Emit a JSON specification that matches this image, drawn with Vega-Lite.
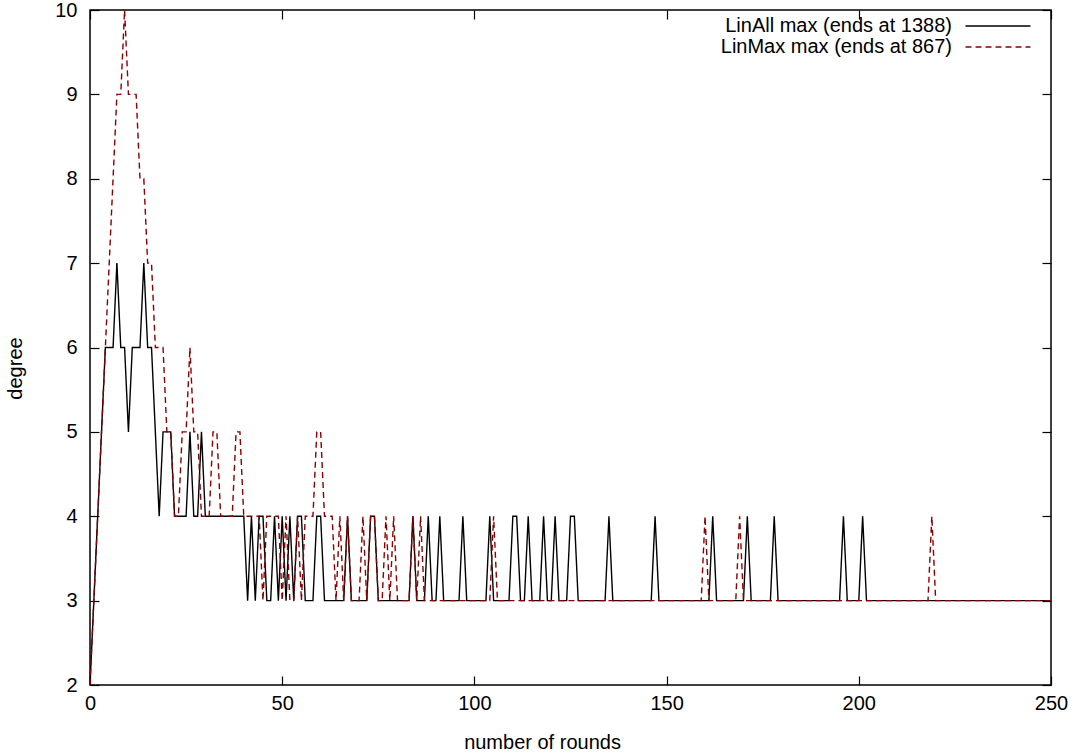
{
  "$schema": "https://vega.github.io/schema/vega-lite/v6.json",
  "width": 961,
  "height": 675,
  "autosize": {"type": "none"},
  "padding": {"left": 90, "top": 10, "right": 29, "bottom": 71},
  "background": "white",
  "config": {
    "font": "Liberation Sans",
    "view": {"stroke": "black", "strokeWidth": 1.5},
    "axis": {"grid": false, "domain": false, "tickColor": "black", "tickWidth": 1.2, "tickSize": -9, "labelColor": "black", "labelFontSize": 20, "labelOverlap": false, "labelFlush": false, "titleColor": "black", "titleFontSize": 20, "titleFontWeight": "normal"}
  },
  "data": {
    "values": [
      {"series": "LinAll max (ends at 1388)", "round": 0, "degree": 2},
      {"series": "LinAll max (ends at 1388)", "round": 1, "degree": 3},
      {"series": "LinAll max (ends at 1388)", "round": 2, "degree": 4},
      {"series": "LinAll max (ends at 1388)", "round": 3, "degree": 5},
      {"series": "LinAll max (ends at 1388)", "round": 4, "degree": 6},
      {"series": "LinAll max (ends at 1388)", "round": 6, "degree": 6},
      {"series": "LinAll max (ends at 1388)", "round": 7, "degree": 7},
      {"series": "LinAll max (ends at 1388)", "round": 8, "degree": 6},
      {"series": "LinAll max (ends at 1388)", "round": 9, "degree": 6},
      {"series": "LinAll max (ends at 1388)", "round": 10, "degree": 5},
      {"series": "LinAll max (ends at 1388)", "round": 11, "degree": 6},
      {"series": "LinAll max (ends at 1388)", "round": 13, "degree": 6},
      {"series": "LinAll max (ends at 1388)", "round": 14, "degree": 7},
      {"series": "LinAll max (ends at 1388)", "round": 15, "degree": 6},
      {"series": "LinAll max (ends at 1388)", "round": 16, "degree": 6},
      {"series": "LinAll max (ends at 1388)", "round": 17, "degree": 5},
      {"series": "LinAll max (ends at 1388)", "round": 18, "degree": 4},
      {"series": "LinAll max (ends at 1388)", "round": 19, "degree": 5},
      {"series": "LinAll max (ends at 1388)", "round": 21, "degree": 5},
      {"series": "LinAll max (ends at 1388)", "round": 22, "degree": 4},
      {"series": "LinAll max (ends at 1388)", "round": 25, "degree": 4},
      {"series": "LinAll max (ends at 1388)", "round": 26, "degree": 5},
      {"series": "LinAll max (ends at 1388)", "round": 27, "degree": 4},
      {"series": "LinAll max (ends at 1388)", "round": 28, "degree": 4},
      {"series": "LinAll max (ends at 1388)", "round": 29, "degree": 5},
      {"series": "LinAll max (ends at 1388)", "round": 30, "degree": 4},
      {"series": "LinAll max (ends at 1388)", "round": 40, "degree": 4},
      {"series": "LinAll max (ends at 1388)", "round": 41, "degree": 3},
      {"series": "LinAll max (ends at 1388)", "round": 42, "degree": 4},
      {"series": "LinAll max (ends at 1388)", "round": 43, "degree": 3},
      {"series": "LinAll max (ends at 1388)", "round": 44, "degree": 4},
      {"series": "LinAll max (ends at 1388)", "round": 45, "degree": 4},
      {"series": "LinAll max (ends at 1388)", "round": 46, "degree": 3},
      {"series": "LinAll max (ends at 1388)", "round": 47, "degree": 3},
      {"series": "LinAll max (ends at 1388)", "round": 48, "degree": 4},
      {"series": "LinAll max (ends at 1388)", "round": 49, "degree": 3},
      {"series": "LinAll max (ends at 1388)", "round": 50, "degree": 4},
      {"series": "LinAll max (ends at 1388)", "round": 51, "degree": 3},
      {"series": "LinAll max (ends at 1388)", "round": 52, "degree": 4},
      {"series": "LinAll max (ends at 1388)", "round": 53, "degree": 3},
      {"series": "LinAll max (ends at 1388)", "round": 54, "degree": 4},
      {"series": "LinAll max (ends at 1388)", "round": 55, "degree": 4},
      {"series": "LinAll max (ends at 1388)", "round": 56, "degree": 3},
      {"series": "LinAll max (ends at 1388)", "round": 58, "degree": 3},
      {"series": "LinAll max (ends at 1388)", "round": 59, "degree": 4},
      {"series": "LinAll max (ends at 1388)", "round": 60, "degree": 4},
      {"series": "LinAll max (ends at 1388)", "round": 61, "degree": 3},
      {"series": "LinAll max (ends at 1388)", "round": 66, "degree": 3},
      {"series": "LinAll max (ends at 1388)", "round": 67, "degree": 4},
      {"series": "LinAll max (ends at 1388)", "round": 68, "degree": 3},
      {"series": "LinAll max (ends at 1388)", "round": 72, "degree": 3},
      {"series": "LinAll max (ends at 1388)", "round": 73, "degree": 4},
      {"series": "LinAll max (ends at 1388)", "round": 74, "degree": 4},
      {"series": "LinAll max (ends at 1388)", "round": 75, "degree": 3},
      {"series": "LinAll max (ends at 1388)", "round": 83, "degree": 3},
      {"series": "LinAll max (ends at 1388)", "round": 84, "degree": 4},
      {"series": "LinAll max (ends at 1388)", "round": 85, "degree": 3},
      {"series": "LinAll max (ends at 1388)", "round": 87, "degree": 3},
      {"series": "LinAll max (ends at 1388)", "round": 88, "degree": 4},
      {"series": "LinAll max (ends at 1388)", "round": 89, "degree": 3},
      {"series": "LinAll max (ends at 1388)", "round": 90, "degree": 3},
      {"series": "LinAll max (ends at 1388)", "round": 91, "degree": 4},
      {"series": "LinAll max (ends at 1388)", "round": 92, "degree": 3},
      {"series": "LinAll max (ends at 1388)", "round": 96, "degree": 3},
      {"series": "LinAll max (ends at 1388)", "round": 97, "degree": 4},
      {"series": "LinAll max (ends at 1388)", "round": 98, "degree": 3},
      {"series": "LinAll max (ends at 1388)", "round": 103, "degree": 3},
      {"series": "LinAll max (ends at 1388)", "round": 104, "degree": 4},
      {"series": "LinAll max (ends at 1388)", "round": 105, "degree": 3},
      {"series": "LinAll max (ends at 1388)", "round": 109, "degree": 3},
      {"series": "LinAll max (ends at 1388)", "round": 110, "degree": 4},
      {"series": "LinAll max (ends at 1388)", "round": 111, "degree": 4},
      {"series": "LinAll max (ends at 1388)", "round": 112, "degree": 3},
      {"series": "LinAll max (ends at 1388)", "round": 113, "degree": 3},
      {"series": "LinAll max (ends at 1388)", "round": 114, "degree": 4},
      {"series": "LinAll max (ends at 1388)", "round": 115, "degree": 3},
      {"series": "LinAll max (ends at 1388)", "round": 117, "degree": 3},
      {"series": "LinAll max (ends at 1388)", "round": 118, "degree": 4},
      {"series": "LinAll max (ends at 1388)", "round": 119, "degree": 3},
      {"series": "LinAll max (ends at 1388)", "round": 120, "degree": 3},
      {"series": "LinAll max (ends at 1388)", "round": 121, "degree": 4},
      {"series": "LinAll max (ends at 1388)", "round": 122, "degree": 3},
      {"series": "LinAll max (ends at 1388)", "round": 124, "degree": 3},
      {"series": "LinAll max (ends at 1388)", "round": 125, "degree": 4},
      {"series": "LinAll max (ends at 1388)", "round": 126, "degree": 4},
      {"series": "LinAll max (ends at 1388)", "round": 127, "degree": 3},
      {"series": "LinAll max (ends at 1388)", "round": 134, "degree": 3},
      {"series": "LinAll max (ends at 1388)", "round": 135, "degree": 4},
      {"series": "LinAll max (ends at 1388)", "round": 136, "degree": 3},
      {"series": "LinAll max (ends at 1388)", "round": 146, "degree": 3},
      {"series": "LinAll max (ends at 1388)", "round": 147, "degree": 4},
      {"series": "LinAll max (ends at 1388)", "round": 148, "degree": 3},
      {"series": "LinAll max (ends at 1388)", "round": 161, "degree": 3},
      {"series": "LinAll max (ends at 1388)", "round": 162, "degree": 4},
      {"series": "LinAll max (ends at 1388)", "round": 163, "degree": 3},
      {"series": "LinAll max (ends at 1388)", "round": 170, "degree": 3},
      {"series": "LinAll max (ends at 1388)", "round": 171, "degree": 4},
      {"series": "LinAll max (ends at 1388)", "round": 172, "degree": 3},
      {"series": "LinAll max (ends at 1388)", "round": 177, "degree": 3},
      {"series": "LinAll max (ends at 1388)", "round": 178, "degree": 4},
      {"series": "LinAll max (ends at 1388)", "round": 179, "degree": 3},
      {"series": "LinAll max (ends at 1388)", "round": 195, "degree": 3},
      {"series": "LinAll max (ends at 1388)", "round": 196, "degree": 4},
      {"series": "LinAll max (ends at 1388)", "round": 197, "degree": 3},
      {"series": "LinAll max (ends at 1388)", "round": 200, "degree": 3},
      {"series": "LinAll max (ends at 1388)", "round": 201, "degree": 4},
      {"series": "LinAll max (ends at 1388)", "round": 202, "degree": 3},
      {"series": "LinAll max (ends at 1388)", "round": 250, "degree": 3},
      {"series": "LinMax max (ends at 867)", "round": 0, "degree": 2},
      {"series": "LinMax max (ends at 867)", "round": 1, "degree": 3},
      {"series": "LinMax max (ends at 867)", "round": 2, "degree": 4},
      {"series": "LinMax max (ends at 867)", "round": 3, "degree": 5},
      {"series": "LinMax max (ends at 867)", "round": 4, "degree": 6},
      {"series": "LinMax max (ends at 867)", "round": 5, "degree": 7},
      {"series": "LinMax max (ends at 867)", "round": 6, "degree": 8},
      {"series": "LinMax max (ends at 867)", "round": 7, "degree": 9},
      {"series": "LinMax max (ends at 867)", "round": 8, "degree": 9},
      {"series": "LinMax max (ends at 867)", "round": 9, "degree": 10},
      {"series": "LinMax max (ends at 867)", "round": 10, "degree": 9},
      {"series": "LinMax max (ends at 867)", "round": 12, "degree": 9},
      {"series": "LinMax max (ends at 867)", "round": 13, "degree": 8},
      {"series": "LinMax max (ends at 867)", "round": 14, "degree": 8},
      {"series": "LinMax max (ends at 867)", "round": 15, "degree": 7},
      {"series": "LinMax max (ends at 867)", "round": 16, "degree": 7},
      {"series": "LinMax max (ends at 867)", "round": 17, "degree": 6},
      {"series": "LinMax max (ends at 867)", "round": 19, "degree": 6},
      {"series": "LinMax max (ends at 867)", "round": 20, "degree": 5},
      {"series": "LinMax max (ends at 867)", "round": 21, "degree": 5},
      {"series": "LinMax max (ends at 867)", "round": 22, "degree": 4},
      {"series": "LinMax max (ends at 867)", "round": 23, "degree": 4},
      {"series": "LinMax max (ends at 867)", "round": 24, "degree": 5},
      {"series": "LinMax max (ends at 867)", "round": 25, "degree": 5},
      {"series": "LinMax max (ends at 867)", "round": 26, "degree": 6},
      {"series": "LinMax max (ends at 867)", "round": 27, "degree": 5},
      {"series": "LinMax max (ends at 867)", "round": 28, "degree": 5},
      {"series": "LinMax max (ends at 867)", "round": 29, "degree": 4},
      {"series": "LinMax max (ends at 867)", "round": 31, "degree": 4},
      {"series": "LinMax max (ends at 867)", "round": 32, "degree": 5},
      {"series": "LinMax max (ends at 867)", "round": 33, "degree": 5},
      {"series": "LinMax max (ends at 867)", "round": 34, "degree": 4},
      {"series": "LinMax max (ends at 867)", "round": 37, "degree": 4},
      {"series": "LinMax max (ends at 867)", "round": 38, "degree": 5},
      {"series": "LinMax max (ends at 867)", "round": 39, "degree": 5},
      {"series": "LinMax max (ends at 867)", "round": 40, "degree": 4},
      {"series": "LinMax max (ends at 867)", "round": 44, "degree": 4},
      {"series": "LinMax max (ends at 867)", "round": 45, "degree": 3},
      {"series": "LinMax max (ends at 867)", "round": 46, "degree": 4},
      {"series": "LinMax max (ends at 867)", "round": 49, "degree": 4},
      {"series": "LinMax max (ends at 867)", "round": 50, "degree": 3},
      {"series": "LinMax max (ends at 867)", "round": 51, "degree": 4},
      {"series": "LinMax max (ends at 867)", "round": 52, "degree": 3},
      {"series": "LinMax max (ends at 867)", "round": 53, "degree": 3},
      {"series": "LinMax max (ends at 867)", "round": 54, "degree": 4},
      {"series": "LinMax max (ends at 867)", "round": 55, "degree": 3},
      {"series": "LinMax max (ends at 867)", "round": 56, "degree": 4},
      {"series": "LinMax max (ends at 867)", "round": 58, "degree": 4},
      {"series": "LinMax max (ends at 867)", "round": 59, "degree": 5},
      {"series": "LinMax max (ends at 867)", "round": 60, "degree": 5},
      {"series": "LinMax max (ends at 867)", "round": 61, "degree": 4},
      {"series": "LinMax max (ends at 867)", "round": 63, "degree": 4},
      {"series": "LinMax max (ends at 867)", "round": 64, "degree": 3},
      {"series": "LinMax max (ends at 867)", "round": 65, "degree": 4},
      {"series": "LinMax max (ends at 867)", "round": 66, "degree": 3},
      {"series": "LinMax max (ends at 867)", "round": 67, "degree": 4},
      {"series": "LinMax max (ends at 867)", "round": 68, "degree": 3},
      {"series": "LinMax max (ends at 867)", "round": 70, "degree": 3},
      {"series": "LinMax max (ends at 867)", "round": 71, "degree": 4},
      {"series": "LinMax max (ends at 867)", "round": 72, "degree": 3},
      {"series": "LinMax max (ends at 867)", "round": 73, "degree": 4},
      {"series": "LinMax max (ends at 867)", "round": 74, "degree": 4},
      {"series": "LinMax max (ends at 867)", "round": 75, "degree": 3},
      {"series": "LinMax max (ends at 867)", "round": 76, "degree": 3},
      {"series": "LinMax max (ends at 867)", "round": 77, "degree": 4},
      {"series": "LinMax max (ends at 867)", "round": 78, "degree": 3},
      {"series": "LinMax max (ends at 867)", "round": 79, "degree": 4},
      {"series": "LinMax max (ends at 867)", "round": 80, "degree": 3},
      {"series": "LinMax max (ends at 867)", "round": 83, "degree": 3},
      {"series": "LinMax max (ends at 867)", "round": 84, "degree": 4},
      {"series": "LinMax max (ends at 867)", "round": 85, "degree": 3},
      {"series": "LinMax max (ends at 867)", "round": 86, "degree": 4},
      {"series": "LinMax max (ends at 867)", "round": 87, "degree": 3},
      {"series": "LinMax max (ends at 867)", "round": 104, "degree": 3},
      {"series": "LinMax max (ends at 867)", "round": 105, "degree": 4},
      {"series": "LinMax max (ends at 867)", "round": 106, "degree": 3},
      {"series": "LinMax max (ends at 867)", "round": 159, "degree": 3},
      {"series": "LinMax max (ends at 867)", "round": 160, "degree": 4},
      {"series": "LinMax max (ends at 867)", "round": 161, "degree": 3},
      {"series": "LinMax max (ends at 867)", "round": 168, "degree": 3},
      {"series": "LinMax max (ends at 867)", "round": 169, "degree": 4},
      {"series": "LinMax max (ends at 867)", "round": 170, "degree": 3},
      {"series": "LinMax max (ends at 867)", "round": 218, "degree": 3},
      {"series": "LinMax max (ends at 867)", "round": 219, "degree": 4},
      {"series": "LinMax max (ends at 867)", "round": 220, "degree": 3},
      {"series": "LinMax max (ends at 867)", "round": 250, "degree": 3}
    ]
  },
  "layer": [
    {
      "mark": {"type": "line", "strokeWidth": 1.4},
      "encoding": {
        "x": {"field": "round", "type": "quantitative", "scale": {"domain": [0, 250], "nice": false, "zero": false},
              "axis": {"orient": "bottom", "values": [0, 50, 100, 150, 200, 250], "labelPadding": 17, "title": "number of rounds", "titlePadding": 19, "titleX": 452}},
        "y": {"field": "degree", "type": "quantitative", "scale": {"domain": [2, 10], "nice": false, "zero": false},
              "axis": {"orient": "left", "values": [2, 3, 4, 5, 6, 7, 8, 9, 10], "labelPadding": 22, "title": "degree", "titlePadding": 29, "titleY": 358}},
        "color": {"field": "series", "type": "nominal",
                  "scale": {"domain": ["LinAll max (ends at 1388)", "LinMax max (ends at 867)"], "range": ["#000000", "#8b0000"]},
                  "legend": {"title": null, "orient": "none", "legendX": 897, "legendY": 5, "padding": 0, "symbolType": "M-3.25,0L3.25,0", "symbolSize": 400, "symbolStrokeWidth": 1.4, "symbolOpacity": 1, "labelFontSize": 20, "labelColor": "black", "labelAlign": "right", "labelOffset": -57, "labelLimit": 500, "rowPadding": 0}},
        "strokeDash": {"field": "series", "type": "nominal",
                       "scale": {"domain": ["LinAll max (ends at 1388)", "LinMax max (ends at 867)"], "range": [[1, 0], [6, 4]]},
                       "legend": {"title": null, "orient": "none", "legendX": 897, "legendY": 5, "padding": 0, "symbolType": "M-3.25,0L3.25,0", "symbolSize": 400, "symbolStrokeWidth": 1.4, "symbolOpacity": 1, "labelFontSize": 20, "labelColor": "black", "labelAlign": "right", "labelOffset": -57, "labelLimit": 500, "rowPadding": 0}}
      }
    },
    {
      "mark": {"type": "point", "opacity": 0},
      "encoding": {
        "x": {"field": "round", "type": "quantitative", "axis": {"orient": "top", "values": [0, 50, 100, 150, 200, 250], "labels": false, "title": null}},
        "y": {"field": "degree", "type": "quantitative", "axis": {"orient": "right", "values": [2, 3, 4, 5, 6, 7, 8, 9, 10], "labels": false, "title": null}}
      }
    }
  ],
  "resolve": {"axis": {"x": "independent", "y": "independent"}}
}
